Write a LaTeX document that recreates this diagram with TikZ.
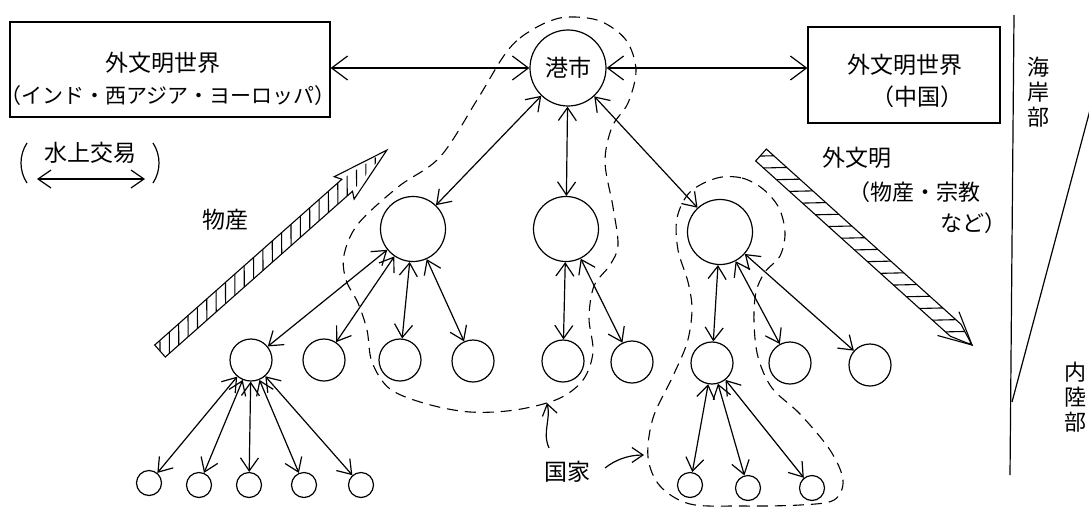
\documentclass[tikz,border=0pt]{standalone}
\usepackage{fontspec}
\setmainfont{Noto Sans CJK JP}
\usetikzlibrary{arrows.meta,calc}

\begin{document}
\begin{tikzpicture}[x=1pt,y=-1pt,line width=1.2pt,
  link/.style={{Straight Barb[length=13pt,width=18pt]}-{Straight Barb[length=13pt,width=18pt]}},
  biglink/.style={{Straight Barb[length=16pt,width=24pt]}-{Straight Barb[length=16pt,width=24pt]}},
  pointer/.style={-{Straight Barb[length=11pt,width=15pt]}},
  hub/.style={draw,circle,minimum size=76pt,inner sep=0pt,font=\fontsize{23}{26}\selectfont},
  town/.style={draw,circle,minimum size=65pt,inner sep=0pt},
  village/.style={draw,circle,minimum size=42pt,inner sep=0pt},
  hamlet/.style={draw,circle,minimum size=25pt,inner sep=0pt},
  world/.style={draw,inner sep=0pt},
  realm/.style={dash pattern=on 11pt off 7pt,line width=1.1pt},
  big/.style={inner sep=0pt,font=\fontsize{23}{26}\selectfont},
  mid/.style={inner sep=0pt,font=\fontsize{21}{24}\selectfont},
  column/.style={inner sep=0pt,align=center,font=\fontsize{22}{25}\selectfont},
  band/.style={line width=1.1pt}
]
\useasboundingbox (0,0) rectangle (1089,507);

% outer civilisations
\node[world,minimum width=320pt,minimum height=95pt] (west) at (170,69.5) {};
\node[big] (westT) at (163,63) {外文明世界};
\node[mid] (westS) at (168,96) {（インド・西アジア・ヨーロッパ）};
\node[world,minimum width=192pt,minimum height=96pt] (east) at (904,75) {};
\node[big] (eastT) at (905,65) {外文明世界};
\node[big] (eastS) at (917,97) {（中国）};

% port and hierarchy of settlements
\node[hub] (port) at (568,68) {港市};
\node[town] (l2a) at (413,229) {};
\node[town] (l2b) at (566,229) {};
\node[town] (l2c) at (720,232) {};
\node[village] (A) at (251,360) {};
\node[village] (B) at (324,360) {};
\node[village] (C) at (400,360) {};
\node[village] (D) at (473,361) {};
\node[village] (E) at (563,361) {};
\node[village] (F) at (632,362) {};
\node[village] (G) at (712,363) {};
\node[village] (H) at (790,363) {};
\node[village] (I) at (870,365) {};
\node[hamlet] (a1) at (149,483) {};
\node[hamlet] (a2) at (199,485) {};
\node[hamlet] (a3) at (249,485) {};
\node[hamlet] (a4) at (304,485) {};
\node[hamlet] (a5) at (361,485) {};
\node[hamlet] (g1) at (690,485) {};
\node[hamlet] (g2) at (748,488) {};
\node[hamlet] (g3) at (812,488) {};

% trade links
\draw[biglink] (west.east |- port.west) -- (port.west);
\draw[biglink] (port.east) -- (port.east -| east.west);
\draw[link] (port) -- (l2a);
\draw[link] (port) -- (l2b);
\draw[link] (port) -- (l2c);
\foreach \v in {A,B,C,D} \draw[link] (l2a) -- (\v);
\foreach \v in {E,F} \draw[link] (l2b) -- (\v);
\foreach \v in {G,H,I} \draw[link] (l2c) -- (\v);
\foreach \v in {a1,a2,a3,a4,a5} \draw[link] (A) -- (\v);
\foreach \v in {g1,g2,g3} \draw[link] (G) -- (\v);

% states (dashed outlines)
\draw[realm] plot[smooth cycle,tension=0.55] coordinates {
  (503,57) (520,38) (545,23) (568,17) (600,21) (626,40) (636,70) (628,103)
  (612,127) (605,162) (613,207) (618,245) (610,265) (594,286) (589,318)
  (593,352) (583,380) (558,399) (515,410) (470,412) (427,404) (390,389)
  (372,362) (367,330) (358,303) (346,280) (344,255) (358,224) (398,187)
  (440,157) (477,100)};
\draw[realm] plot[smooth cycle,tension=0.55] coordinates {
  (717,178) (742,178) (763,189) (779,208) (785,233) (780,256) (765,272)
  (756,292) (754,322) (758,357) (772,388) (800,414) (830,450) (843,480)
  (834,500) (800,505) (740,506) (690,504) (660,486) (648,457) (653,418)
  (672,378) (687,343) (692,310) (688,282) (678,250) (677,218) (690,192)};

\node[big] (state) at (567,472) {国家};
\coordinate (s1a) at (549,448);
\coordinate (s1b) at (547,403);
\coordinate (s2a) at (605,468);
\coordinate (s2b) at (644,455);
\draw[pointer] (s1a) .. controls (542,432) and (551,420) .. (s1b);
\draw[pointer] (s2a) .. controls (615,460) and (628,455) .. (s2b);

% legend: water-borne trade
\node[big] (water) at (90,153) {水上交易};
\coordinate (w1) at (37,179);
\coordinate (w2) at (145,179);
\draw[link] (w1) -- (w2);
\draw (27,143) .. controls (19,155) and (19,171) .. (27,183);
\draw (153,143) .. controls (161,155) and (161,171) .. (153,183);

% goods flowing out to the port
\begin{scope}[shift={(160,351)},x={(0.7487pt,0.6629pt)},y={(-0.6629pt,0.7487pt)},band]
  \draw (0,8) -- (250,8) -- (246,15) -- (303,0) -- (246,-15) -- (250,-8) -- (0,-8) -- cycle;
  \begin{scope}
    \clip (0,8) -- (250,8) -- (303,0) -- (250,-8) -- (0,-8) -- cycle;
    \foreach \s in {-7,5.5,...,290} \draw (\s,-8) -- (\s+14,8);
  \end{scope}
\end{scope}
\node[big] (goods) at (225,220) {物産};

% foreign culture flowing inland
\begin{scope}[shift={(761,155)},x={(0.743pt,-0.669pt)},y={(0.669pt,0.743pt)},band]
  \draw (0,8) -- (262,8) -- (284,0) -- (262,-8) -- (0,-8) -- cycle;
  \draw (252,16) -- (284,0) -- (252,-16);
  \begin{scope}
    \clip (0,8) -- (262,8) -- (284,0) -- (262,-8) -- (0,-8) -- cycle;
    \foreach \s in {10,27.5,...,300} \draw (\s,8) -- (\s-17,-8);
  \end{scope}
\end{scope}
\node[big] (culture) at (857,158) {外文明};
\node[mid,anchor=west,font=\fontsize{22}{25}\selectfont] (cult2) at (848,192) {（物産・宗教};
\node[mid,anchor=west,font=\fontsize{22}{25}\selectfont] (cult3) at (940,223) {など）};

% coast / inland axis
\coordinate (v1) at (1014,15);
\coordinate (v2) at (1010,475);
\coordinate (k1) at (1012,402);
\coordinate (k2) at (1090,110);
\draw (v1) -- (v2);
\draw (k1) -- (k2);
\node[column] (coast) at (1038,92) {海\\岸\\部};
\node[column] (inland) at (1075,397) {内\\陸\\部};
\end{tikzpicture}
\end{document}
